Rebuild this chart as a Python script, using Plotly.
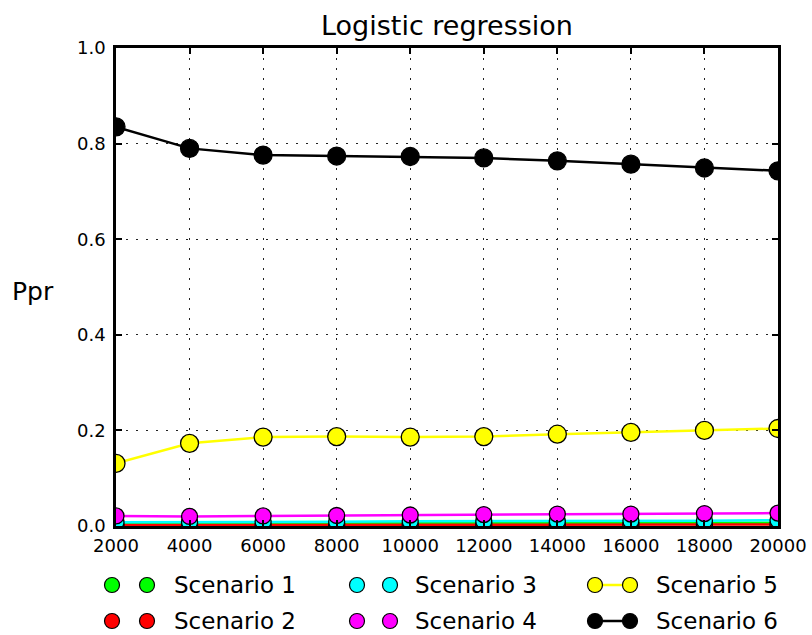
import plotly.graph_objects as go

# Training-set sizes
sizes = [2000, 4000, 6000, 8000, 10000, 12000, 14000, 16000, 18000, 20000]

# Ppr per scenario
scenario_1 = [0.006, 0.006, 0.006, 0.006, 0.006, 0.007, 0.007, 0.007, 0.007, 0.007]
scenario_2 = [0.002, 0.002, 0.002, 0.002, 0.002, 0.002, 0.002, 0.003, 0.003, 0.003]
scenario_3 = [0.008, 0.008, 0.009, 0.009, 0.010, 0.010, 0.010, 0.011, 0.011, 0.012]
scenario_4 = [0.021, 0.020, 0.021, 0.022, 0.023, 0.024, 0.025, 0.025, 0.026, 0.027]
scenario_5 = [0.131, 0.173, 0.186, 0.187, 0.186, 0.187, 0.192, 0.196, 0.200, 0.204]
scenario_6 = [0.835, 0.790, 0.776, 0.774, 0.773, 0.770, 0.764, 0.757, 0.749, 0.743]

names = ["Scenario 1", "Scenario 2", "Scenario 3", "Scenario 4", "Scenario 5", "Scenario 6"]
series = [scenario_1, scenario_2, scenario_3, scenario_4, scenario_5, scenario_6]
colors = ["#00ff00", "#ff0000", "#00ffff", "#ff00ff", "#ffff00", "#000000"]
marker_sizes = [16, 16, 16, 16, 18, 18]

x_ticks = [2000, 4000, 6000, 8000, 10000, 12000, 14000, 16000, 18000, 20000]
y_ticks = [0.0, 0.2, 0.4, 0.6, 0.8, 1.0]

W, H = 812, 635
left, right, top, bottom = 116, 778, 48, 526
FONT = "DejaVu Sans"

fig = go.Figure()

for name, ys, col, ms in zip(names, series, colors, marker_sizes):
    fig.add_trace(go.Scatter(
        x=sizes, y=ys, name=name, mode="lines+markers",
        line=dict(color=col, width=2.5),
        marker=dict(color=col, size=ms, line=dict(color="black", width=1.3)),
        showlegend=False, cliponaxis=True,
    ))

# Legend drawn on a full-figure pixel overlay: two circles per entry, joined for 5 and 6
legend_cols = [(112, 147, 172), (357, 390, 413), (595, 630, 654)]
legend_rows = [585, 621]
annotations = []
for i, (name, col) in enumerate(zip(names, colors)):
    cx1, cx2, tx = legend_cols[i // 2]
    ry = legend_rows[i % 2]
    joined = i >= 4
    fig.add_trace(go.Scatter(
        x=[cx1, cx2], y=[ry, ry], xaxis="x2", yaxis="y2",
        mode="lines+markers" if joined else "markers",
        line=dict(color=col, width=2.5),
        marker=dict(color=col, size=15, line=dict(color="black", width=1.2)),
        showlegend=False, hoverinfo="skip", cliponaxis=False,
    ))
    annotations.append(dict(
        x=tx / W, y=1 - ry / H, xref="paper", yref="paper",
        text=name, showarrow=False, xanchor="left", yanchor="middle",
        font=dict(family=FONT, size=23, color="black"),
    ))

annotations.append(dict(
    x=(left + right) / 2 / W, y=1 - 26 / H, xref="paper", yref="paper",
    text="Logistic regression", showarrow=False, xanchor="center", yanchor="middle",
    font=dict(family=FONT, size=27, color="black"),
))
annotations.append(dict(
    x=10 / W, y=1 - 291 / H, xref="paper", yref="paper",
    text="Ppr", showarrow=False, xanchor="left", yanchor="middle",
    font=dict(family=FONT, size=25, color="black"),
))

axis_common = dict(
    showline=True, linecolor="black", linewidth=2.5, mirror="ticks",
    ticks="inside", ticklen=6, tickwidth=1.5, tickcolor="black",
    showgrid=True, gridcolor="#222222", gridwidth=1.2, griddash="2px,8px",
    zeroline=False, automargin=False,
    tickfont=dict(family=FONT, size=18, color="black"),
)

fig.update_layout(
    width=W, height=H,
    margin=dict(l=0, r=0, t=0, b=0, autoexpand=False),
    paper_bgcolor="white", plot_bgcolor="rgba(0,0,0,0)",
    xaxis=dict(
        domain=[left / W, right / W], range=[2000, 20000],
        tickvals=x_ticks, ticktext=[str(v) for v in x_ticks],
        anchor="y", ticklabelstandoff=2, **axis_common,
    ),
    yaxis=dict(
        domain=[1 - bottom / H, 1 - top / H], range=[0, 1],
        tickvals=y_ticks, ticktext=[f"{v:.1f}" for v in y_ticks],
        anchor="x", ticklabelstandoff=4, **axis_common,
    ),
    xaxis2=dict(domain=[0, 1], range=[0, W], visible=False, anchor="y2", fixedrange=True),
    yaxis2=dict(domain=[0, 1], range=[H, 0], visible=False, anchor="x2", fixedrange=True),
    annotations=annotations,
    showlegend=False,
)

fig.write_html("out.html")
